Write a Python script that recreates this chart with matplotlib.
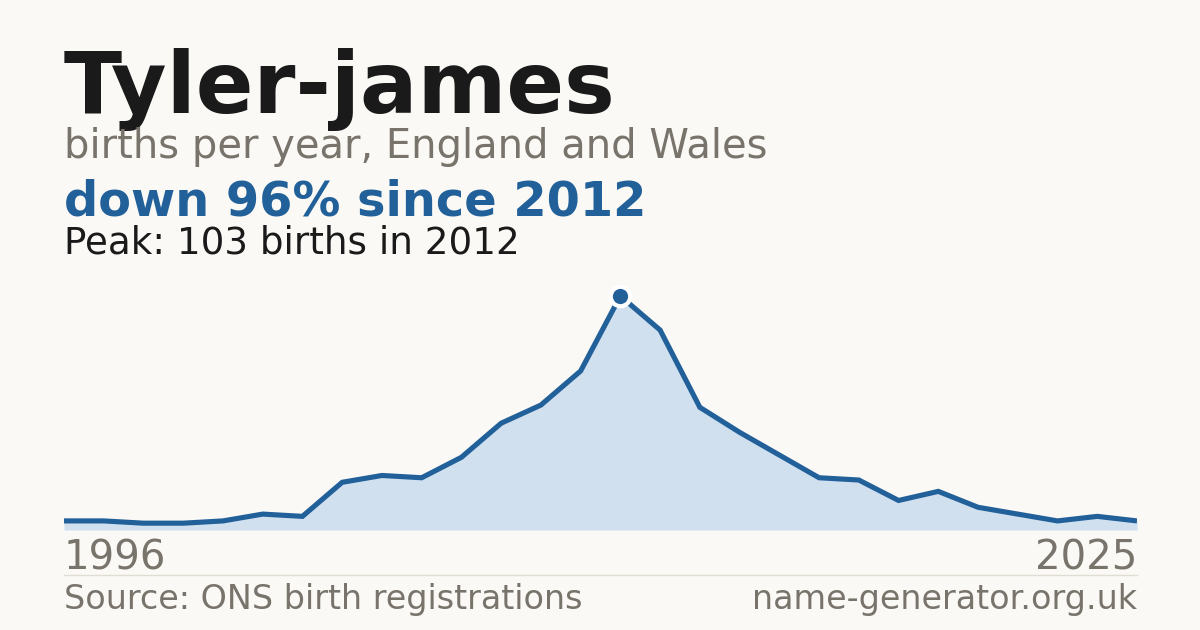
import matplotlib
matplotlib.use("Agg")
import matplotlib.pyplot as plt

# ---- data ----
years = list(range(1998, 2026))
births = [4, 4, 3, 3, 4, 7, 6, 21, 24, 23, 32, 47, 55, 70, 103, 88, 54, 43, 33, 23,
          22, 13, 17, 10, 7, 4, 6, 4]
peak_year = 2012
peak_value = 103
axis_labels = ["1996", "2025"]

title = "Tyler-james"
subtitle = "births per year, England and Wales"
headline = "down 96% since 2012"
peak_text = "Peak: 103 births in 2012"
source = "Source: ONS birth registrations"
site = "name-generator.org.uk"

# ---- style ----
BG = "#faf9f5"
BLUE = "#22609a"
FILL = "#d0e0ef"
GRAY = "#78736b"
DARK = "#1a1a1a"
W, H = 1200, 630

plt.rcParams['font.family'] = ['DejaVu Sans']
fig = plt.figure(figsize=(W / 100, H / 100), dpi=100, facecolor=BG)

def fx(px):
    return px / W

def fy(py):
    return (H - py) / H

left, right = 64, 1137
bottom, top = 530, 280
ax = fig.add_axes([fx(left), fy(bottom), fx(right - left), (bottom - top) / H])
ax.set_facecolor(BG)
ax.patch.set_alpha(0)
ax.fill_between(years, births, 0, color=FILL, lw=0)
ax.plot(years, births, color=BLUE, lw=3.7, solid_capstyle='butt', solid_joinstyle='miter')
ax.plot([peak_year], [peak_value], 'o', ms=14, mfc=BLUE, mec='white', mew=3, clip_on=False, zorder=5)
ax.set_xlim(years[0], years[-1])
ax.set_ylim(0, peak_value * (bottom - top) / (bottom - 296))
ax.axis('off')

# texts
fig.text(fx(64), fy(113), title, fontsize=61.4, fontweight='bold', color=DARK, va='baseline')
fig.text(fx(64), fy(158), subtitle, fontsize=28.8, color=GRAY, va='baseline')
fig.text(fx(64), fy(215), headline, fontsize=34.5, fontweight='bold', color=BLUE, va='baseline')
fig.text(fx(64), fy(253), peak_text, fontsize=26.8, color=DARK, va='baseline')

fig.text(fx(64), fy(570), axis_labels[0], fontsize=29, color=GRAY, va='baseline', ha='left')
fig.text(fx(1137), fy(570), axis_labels[1], fontsize=29, color=GRAY, va='baseline', ha='right')

fig.add_artist(plt.Line2D([fx(64), fx(1137)], [fy(574.5), fy(574.5)], color="#e2ddd4", lw=1))

fig.text(fx(64), fy(609), source, fontsize=24, color=GRAY, va='baseline', ha='left')
fig.text(fx(1137), fy(609), site, fontsize=24, color=GRAY, va='baseline', ha='right')

fig.savefig("out.png", dpi=100, facecolor=BG)
